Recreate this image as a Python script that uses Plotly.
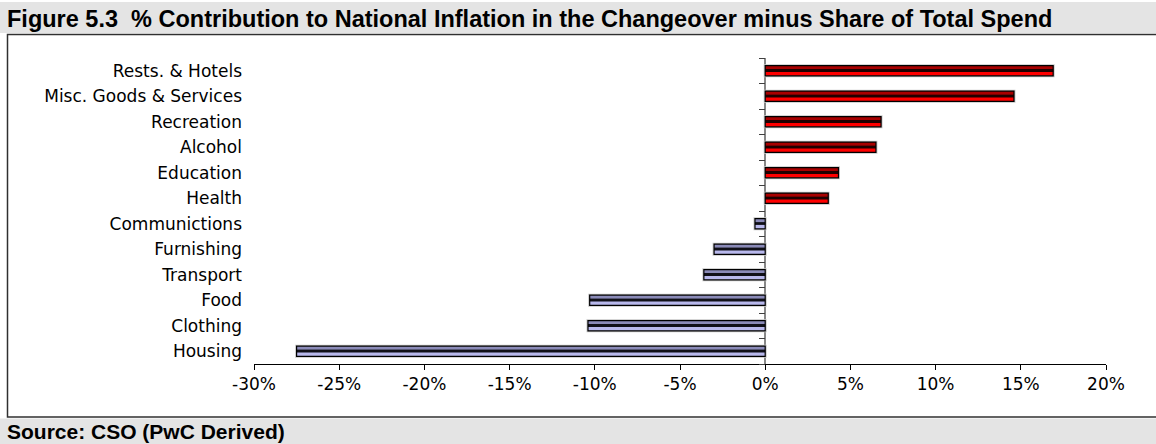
import plotly.graph_objects as go

# Categories listed top to bottom as they appear on the chart
categories = [
    "Rests. & Hotels",
    "Misc. Goods & Services",
    "Recreation",
    "Alcohol",
    "Education",
    "Health",
    "Communictions",
    "Furnishing",
    "Transport",
    "Food",
    "Clothing",
    "Housing",
]
# % contribution to inflation minus share of total spend
values = [16.9, 14.6, 6.8, 6.5, 4.3, 3.7, -0.6, -3.0, -3.6, -10.3, -10.4, -27.5]

tick_vals = [-30, -25, -20, -15, -10, -5, 0, 5, 10, 15, 20]
tick_labels = ["-30%", "-25%", "-20%", "-15%", "-10%", "-5%", "0%", "5%", "10%", "15%", "20%"]

title_text = "Figure 5.3  % Contribution to National Inflation in the Changeover minus Share of Total Spend"
source_text = "Source: CSO (PwC Derived)"

# Figure geometry (pixels)
W, H = 1156, 444
ML, MR, MT, MB = 254, 50, 58, 80
PW, PH = W - ML - MR, H - MT - MB
X_MIN, X_MAX = -30, 20
N = len(categories)


def px2x(px):
    return (px - ML) / PW


def py2y(py):
    return (H - MB - py) / PH


# Bar colouring: red shades for positive, lavender shades for negative
pos_light, pos_dark, pos_mid = "#ff0000", "#a80000", "#200000"
neg_light, neg_dark, neg_mid = "#b8b8ec", "#8a8ab8", "#101018"
body_col = [pos_light if v >= 0 else neg_light for v in values]
top_col = [pos_dark if v >= 0 else neg_dark for v in values]
mid_col = [pos_mid if v >= 0 else neg_mid for v in values]

order = categories[::-1]  # bottom-to-top order for the category axis

fig = go.Figure()

common = dict(y=categories, x=values, orientation="h", hoverinfo="skip", showlegend=False)

# soft grey halo round each bar
fig.add_trace(go.Bar(**common, width=0.40, offset=-0.20,
                     marker=dict(color="rgba(0,0,0,0)", line=dict(color="#c8c8c8", width=3))))
# bar body (lower, lighter band)
fig.add_trace(go.Bar(**common, width=0.40, offset=-0.20,
                     marker=dict(color=body_col, line=dict(width=0))))
# upper darker band
fig.add_trace(go.Bar(**common, width=0.135, offset=0.065,
                     marker=dict(color=top_col, line=dict(width=0))))
# dark centre stripe
fig.add_trace(go.Bar(**common, width=0.11, offset=-0.045,
                     marker=dict(color=mid_col, line=dict(width=0))))
# black outline
fig.add_trace(go.Bar(**common, width=0.40, offset=-0.20,
                     marker=dict(color="rgba(0,0,0,0)", line=dict(color="#000000", width=1.2))))

# invisible helper so the tick-mark axis on the 0% line gets drawn
fig.add_trace(go.Scatter(x=[0] * N, y=list(range(N)), yaxis="y2", mode="markers",
                         marker=dict(opacity=0, size=1), hoverinfo="skip", showlegend=False))

label_font = dict(family="DejaVu Sans", size=17, color="#000000")

fig.update_layout(
    width=W, height=H,
    margin=dict(l=ML, r=MR, t=MT, b=MB, pad=0),
    paper_bgcolor="white", plot_bgcolor="white",
    barmode="overlay",
    font=label_font,
    xaxis=dict(
        range=[X_MIN, X_MAX], tickmode="array", tickvals=tick_vals, ticktext=tick_labels,
        showline=True, linecolor="#000000", linewidth=1,
        ticks="outside", ticklen=5, tickcolor="#000000", tickwidth=1,
        showgrid=False,
        # vertical axis line through 0%
        zeroline=True, zerolinecolor="#888888", zerolinewidth=2,
        tickfont=label_font,
        fixedrange=True,
    ),
    yaxis=dict(
        type="category", categoryorder="array", categoryarray=order,
        range=[-0.5, N - 0.5],
        showline=False, showgrid=False, zeroline=False, ticks="",
        ticklabelstandoff=11,
        tickfont=label_font,
        fixedrange=True,
    ),
    # tick marks between categories, hung on the 0% line
    yaxis2=dict(
        type="linear", range=[-0.5, N - 0.5],
        tickmode="array", tickvals=[i - 0.5 for i in range(N + 1)],
        overlaying="y", anchor="free", side="left",
        position=(0 - X_MIN) / (X_MAX - X_MIN),
        showline=False,
        ticks="outside", ticklen=6, tickcolor="#404040", tickwidth=1,
        showticklabels=False, showgrid=False, zeroline=False,
        fixedrange=True,
    ),
    shapes=[
        # title band
        dict(type="rect", xref="paper", yref="paper", x0=px2x(0), x1=px2x(W), y0=py2y(33), y1=py2y(2),
             fillcolor="#e4e4e4", line=dict(width=0), layer="below"),
        # source band
        dict(type="rect", xref="paper", yref="paper", x0=px2x(0), x1=px2x(W), y0=py2y(H), y1=py2y(418.5),
             fillcolor="#e4e4e4", line=dict(width=0), layer="below"),
        # chart frame
        dict(type="rect", xref="paper", yref="paper", x0=px2x(7.5), x1=px2x(W + 5), y0=py2y(417), y1=py2y(34.5),
             fillcolor="rgba(0,0,0,0)", line=dict(color="#303030", width=1.5), layer="below"),
    ],
    annotations=[
        dict(text="<b>" + title_text + "</b>", xref="paper", yref="paper",
             x=px2x(5), y=py2y(19), xanchor="left", yanchor="middle", showarrow=False,
             font=dict(family="Liberation Sans", size=23.5, color="#000000")),
        dict(text="<b>" + source_text + "</b>", xref="paper", yref="paper",
             x=px2x(5), y=py2y(431), xanchor="left", yanchor="middle", showarrow=False,
             font=dict(family="Liberation Sans", size=21, color="#000000")),
    ],
)

fig.write_html("out.html", config={"displayModeBar": False})
